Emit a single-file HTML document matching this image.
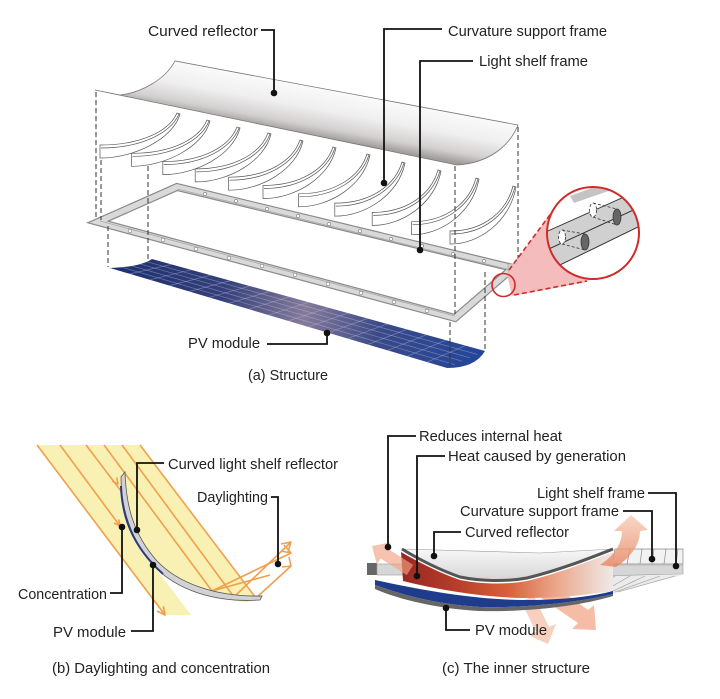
<!DOCTYPE html>
<html><head><meta charset="utf-8">
<style>
html,body{margin:0;padding:0;background:#fff;}
svg{display:block;}
text{font-family:"Liberation Sans",Arial,sans-serif;font-size:15px;fill:#222;}
</style></head><body>
<svg width="720" height="699" viewBox="0 0 720 699" xmlns="http://www.w3.org/2000/svg">
<defs>
<linearGradient id="gRefl" gradientUnits="userSpaceOnUse" x1="305" y1="84" x2="296" y2="133">
<stop offset="0" stop-color="#fbfbfb"/><stop offset=".45" stop-color="#efefef"/><stop offset=".8" stop-color="#d2cfcf"/><stop offset="1" stop-color="#a29d9d"/></linearGradient>
<linearGradient id="gPV" gradientUnits="userSpaceOnUse" x1="110" y1="268" x2="485" y2="352">
<stop offset="0" stop-color="#1b2f6e"/><stop offset=".3" stop-color="#33407a"/><stop offset=".52" stop-color="#857a9a"/><stop offset=".72" stop-color="#3a4988"/><stop offset="1" stop-color="#23469a"/></linearGradient>
<linearGradient id="gHeat" gradientUnits="userSpaceOnUse" x1="380" y1="0" x2="613" y2="0">
<stop offset="0" stop-color="#8e2020"/><stop offset=".3" stop-color="#b23a28"/><stop offset=".55" stop-color="#d8603a"/><stop offset=".75" stop-color="#eca588"/><stop offset="1" stop-color="#eeeae8"/></linearGradient>
<linearGradient id="gRefC" x1="0" y1="0" x2="0" y2="1">
<stop offset="0" stop-color="#f8f8f8"/><stop offset="1" stop-color="#d6d6d6"/></linearGradient>
<linearGradient id="gUp" gradientUnits="userSpaceOnUse" x1="0" y1="515" x2="0" y2="567">
<stop offset="0" stop-color="#f6cdb8"/><stop offset="1" stop-color="#e8825c"/></linearGradient>
<clipPath id="cpPV"><path d="M110,268 Q140,267 152,259 L485,351 Q475,368 447,368 Z"/></clipPath>
<clipPath id="cpCirc"><circle cx="593" cy="233" r="46"/></clipPath>
</defs>

<!-- ===== (a) Structure ===== -->
<path d="M110,268 Q140,267 152,259 L485,351 Q475,368 447,368 Z" fill="url(#gPV)"/>
<g clip-path="url(#cpPV)" stroke="#c8c8e6" stroke-opacity=".45" stroke-width=".7">
<line x1="143.6" y1="260.8" x2="477.4" y2="354.4"/><line x1="135.2" y1="262.6" x2="469.8" y2="357.8"/>
<line x1="126.8" y1="264.4" x2="462.2" y2="361.2"/><line x1="118.4" y1="266.2" x2="454.6" y2="364.6"/>
<line x1="171.6" y1="264.4" x2="129.8" y2="273.9"/><line x1="191.2" y1="269.8" x2="149.6" y2="279.8"/>
<line x1="210.8" y1="275.2" x2="169.5" y2="285.6"/><line x1="230.4" y1="280.6" x2="189.3" y2="291.5"/>
<line x1="249.9" y1="286.1" x2="209.1" y2="297.4"/><line x1="269.5" y1="291.5" x2="228.9" y2="303.3"/>
<line x1="289.1" y1="296.9" x2="248.8" y2="309.2"/><line x1="308.7" y1="302.3" x2="268.6" y2="315.1"/>
<line x1="328.3" y1="307.7" x2="288.4" y2="320.9"/><line x1="347.9" y1="313.1" x2="308.2" y2="326.8"/>
<line x1="367.5" y1="318.5" x2="328.1" y2="332.7"/><line x1="387.1" y1="323.9" x2="347.9" y2="338.6"/>
<line x1="406.6" y1="329.4" x2="367.7" y2="344.5"/><line x1="426.2" y1="334.8" x2="387.5" y2="350.4"/>
<line x1="445.8" y1="340.2" x2="407.4" y2="356.2"/><line x1="465.4" y1="345.6" x2="427.2" y2="362.1"/>
</g>

<!-- Light shelf frame -->
<path d="M177,187 L513,268 L455,318 L98,222 Z" fill="none" stroke="#8a8a8a" stroke-width="8" stroke-linejoin="miter"/>
<path d="M177,187 L513,268 L455,318 L98,222 Z" fill="none" stroke="#d9d9d9" stroke-width="5.6" stroke-linejoin="miter"/>
<path d="M177,189 L511,270 M455,316 L100,221" fill="none" stroke="#a8a8a8" stroke-width=".8"/>
<rect x="508" y="264" width="12" height="7" fill="#d2d2d2" stroke="#999" stroke-width=".6"/>
<g fill="#fff" stroke="#777" stroke-width=".6">
<circle cx="130" cy="231" r="1.8"/><circle cx="163" cy="240" r="1.8"/><circle cx="196" cy="249" r="1.8"/><circle cx="229" cy="258" r="1.8"/><circle cx="262" cy="266" r="1.8"/><circle cx="295" cy="275" r="1.8"/><circle cx="328" cy="284" r="1.8"/><circle cx="361" cy="293" r="1.8"/><circle cx="394" cy="302" r="1.8"/><circle cx="427" cy="311" r="1.8"/>
<circle cx="205" cy="194" r="1.6"/><circle cx="236" cy="201" r="1.6"/><circle cx="267" cy="209" r="1.6"/><circle cx="298" cy="216" r="1.6"/><circle cx="329" cy="224" r="1.6"/><circle cx="360" cy="231" r="1.6"/><circle cx="391" cy="239" r="1.6"/><circle cx="422" cy="246" r="1.6"/><circle cx="453" cy="254" r="1.6"/><circle cx="484" cy="261" r="1.6"/>
</g>

<!-- Curvature support ribs (crescents) -->
<g fill="#fff" stroke="#555" stroke-width=".7">
<path d="M450,231 C484.7,231 506.7,210.8 513,186 L516,187 C509.9,222 478.4,244 451,244 L450,244 Z"/><path d="M451,234 C484.7,234 508,212.8 515,187" fill="none"/>
<path d="M411.6,221.7 C447,221.7 469.6,202 476,178 L479,179 C472.8,213 440.6,234.7 412.6,234.7 L411.6,234.7 Z"/><path d="M412.6,224.7 C447,224.7 470.8,204 478,179" fill="none"/>
<path d="M372.2,212.4 C408.4,212.4 431.4,193.3 438,170 L441,171 C434.7,203.9 401.8,225.4 373.2,225.4 L372.2,225.4 Z"/><path d="M373.2,215.4 C408.4,215.4 432.7,195.3 440,171" fill="none"/>
<path d="M334.8,203.1 C371.8,203.1 395.3,184.6 402,162 L405,163 C398.6,194.9 365,216.1 335.8,216.1 L334.8,216.1 Z"/><path d="M335.8,206.1 C371.8,206.1 396.6,186.6 404,163" fill="none"/>
<path d="M298.4,193.8 C336.1,193.8 360.1,175.9 367,154 L370,155 C363.6,185.8 329.3,206.8 299.4,206.8 L298.4,206.8 Z"/><path d="M299.4,196.8 C336.1,196.8 361.5,177.9 369,155" fill="none"/>
<path d="M263,185.5 C301.5,185.5 326,168.2 333,147 L336,148 C329.5,177.8 294.5,198.5 264,198.5 L263,198.5 Z"/><path d="M264,188.5 C301.5,188.5 327.4,170.2 335,148" fill="none"/>
<path d="M228.6,177.2 C267.9,177.2 292.9,160.5 300,140 L303,141 C296.4,169.8 260.7,190.2 229.6,190.2 L228.6,190.2 Z"/><path d="M229.6,180.2 C267.9,180.2 294.3,162.5 302,141" fill="none"/>
<path d="M195.2,168.9 C235.2,168.9 260.7,152.7 268,133 L271,134 C264.4,161.7 228,181.9 196.2,181.9 L195.2,181.9 Z"/><path d="M196.2,171.9 C235.2,171.9 262.2,154.7 270,134" fill="none"/>
<path d="M162.8,161.6 C203.6,161.6 229.6,146 237,127 L240,128 C233.3,154.7 196.2,174.6 163.8,174.6 L162.8,174.6 Z"/><path d="M163.8,164.6 C203.6,164.6 231.1,148 239,128" fill="none"/>
<path d="M131.4,153.3 C173,153.3 199.4,138.3 207,120 L210,121 C203.2,146.6 165.4,166.3 132.4,166.3 L131.4,166.3 Z"/><path d="M132.4,156.3 C173,156.3 201,140.3 209,121" fill="none"/>
<path d="M100,145 C142.4,145 169.3,130.6 177,113 L180,114 C173.2,138.6 134.7,158 101,158 L100,158 Z"/><path d="M101,148 C142.4,148 170.8,132.6 179,114" fill="none"/>
</g>

<!-- Curved reflector -->
<path d="M95,90 L457,165 C490,163 510,145 518,125 L175,61 C165,80 140,93 120,95 Z" fill="url(#gRefl)" stroke="#777" stroke-width=".8"/>

<!-- dashed projection lines -->
<g stroke="#333" stroke-width="1" stroke-dasharray="5,3" fill="none">
<line x1="96" y1="92" x2="96" y2="220"/><line x1="101" y1="160" x2="101" y2="220"/>
<line x1="108" y1="226" x2="108" y2="267"/><line x1="148" y1="166" x2="148" y2="259"/>
<line x1="455" y1="166" x2="455" y2="314"/><line x1="450" y1="322" x2="450" y2="366"/>
<line x1="518" y1="127" x2="518" y2="264"/><line x1="485" y1="272" x2="485" y2="350"/>
</g>

<!-- inset magnifier -->
<path d="M507,274 L552,211 L593,233 L587,282 L512,296 Z" fill="#f4bcbc"/>
<g stroke="#d02a2a" stroke-width="1.6" stroke-dasharray="5,3" fill="none">
<line x1="509" y1="270" x2="552" y2="212"/><line x1="514" y1="295" x2="587" y2="281"/></g>
<circle cx="503.5" cy="285" r="11.5" fill="none" stroke="#d02a2a" stroke-width="1.6"/>
<circle cx="593" cy="233" r="46" fill="#fff"/>
<g clip-path="url(#cpCirc)">
<path d="M570,196 L640,170 L640,180 L574,203 Z" fill="#c4c4c4"/>
<path d="M540,234.5 L645,187.6 L645,223.6 L540,274.7 Z" fill="#d0d0d0"/>
<g stroke="#333" stroke-width="1"><line x1="540" y1="234.5" x2="645" y2="187.6"/><line x1="540" y1="253" x2="645" y2="204.7"/><line x1="540" y1="274.7" x2="645" y2="223.6"/></g>
<g stroke="#333" stroke-width=".8" stroke-dasharray="3,2" fill="none">
<line x1="562" y1="230" x2="585" y2="234"/><line x1="562" y1="244" x2="585" y2="250"/>
<line x1="593" y1="203" x2="617" y2="209"/><line x1="593" y1="217" x2="617" y2="225"/>
<ellipse cx="562" cy="237" rx="3.5" ry="7" fill="#fff"/><ellipse cx="593" cy="210" rx="3.5" ry="7" fill="#fff"/></g>
<ellipse cx="585" cy="242" rx="4" ry="8" fill="#666" stroke="#333" stroke-width=".8"/>
<ellipse cx="617" cy="217" rx="4" ry="8" fill="#666" stroke="#333" stroke-width=".8"/>
</g>
<circle cx="593" cy="233" r="46" fill="none" stroke="#d02a2a" stroke-width="2"/>

<!-- (a) leaders -->
<g stroke="#111" stroke-width="1.8" fill="none">
<polyline points="261,30 274,30 274,93"/>
<polyline points="442,29 384,29 384,183"/>
<polyline points="473,61 420,61 420,250"/>
<polyline points="267,344 327,344 327,333"/>
</g>
<g fill="#111"><circle cx="274" cy="93" r="3.3"/><circle cx="384" cy="183" r="3.3"/><circle cx="420" cy="250" r="3.3"/><circle cx="327" cy="333" r="3.3"/></g>
<text x="148" y="36" textLength="110" lengthAdjust="spacingAndGlyphs">Curved reflector</text>
<text x="448" y="36" textLength="159" lengthAdjust="spacingAndGlyphs">Curvature support frame</text>
<text x="479" y="66" textLength="109" lengthAdjust="spacingAndGlyphs">Light shelf frame</text>
<text x="188" y="348" textLength="72" lengthAdjust="spacingAndGlyphs">PV module</text>
<text x="248" y="380" textLength="80" lengthAdjust="spacingAndGlyphs">(a) Structure</text>

<!-- ===== (b) Daylighting and concentration ===== -->
<path d="M37,445 L140,445 L257,600 L247,602 C220,601 190,590 153,565 L191,615 L165,615 Z" fill="#f9f0b4"/>
<g stroke="#f0a04c" stroke-width="1.6" fill="none" stroke-linejoin="round">
<line x1="37" y1="445" x2="165" y2="615"/>
<line x1="60" y1="445" x2="120" y2="526"/>
<line x1="86" y1="445" x2="121" y2="491"/>
<line x1="104" y1="445" x2="212" y2="591"/>
<line x1="122" y1="445" x2="234" y2="597"/>
<line x1="140" y1="445" x2="256" y2="598"/>
<line x1="212" y1="591" x2="291" y2="553"/>
<line x1="234" y1="597" x2="291" y2="542"/>
<line x1="256" y1="598" x2="291" y2="566"/>
<line x1="212" y1="591" x2="270" y2="575"/>
<polyline points="157,611 165,615 163.4,606.2"/>
<polyline points="112,481 118,484 116.8,477.4"/>
<polyline points="114,523 120,526 118.8,519.4"/>
<polyline points="281,551 291,553 284,545"/>
<polyline points="281,544 291,542 288,552"/>
<polyline points="282,567 291,566 289,557"/>
</g>
<path d="M121,477 L125,472 C126,505 133,534 157,561 C178,583 215,597 262,596 L260,600 C215,603 176,590 153,565 C130,538 121,508 121,477 Z" fill="#d2d2d2" stroke="#555" stroke-width=".8"/>
<path d="M121,486 C122,515 131,545 163,574" fill="none" stroke="#2a3a80" stroke-width="2"/>

<g stroke="#111" stroke-width="1.8" fill="none">
<polyline points="164,463 137,463 137,530"/>
<polyline points="271,497 278,497 278,564"/>
<polyline points="110,593 122,593 122,527"/>
<polyline points="131,631 153,631 153,565"/>
</g>
<g fill="#111"><circle cx="137" cy="530" r="3.3"/><circle cx="278" cy="564" r="3.3"/><circle cx="122" cy="527" r="3.3"/><circle cx="153" cy="565" r="3.3"/></g>
<text x="168" y="469" textLength="170" lengthAdjust="spacingAndGlyphs">Curved light shelf reflector</text>
<text x="197" y="502" textLength="71" lengthAdjust="spacingAndGlyphs">Daylighting</text>
<text x="18" y="599" textLength="89" lengthAdjust="spacingAndGlyphs">Concentration</text>
<text x="53" y="637" textLength="73" lengthAdjust="spacingAndGlyphs">PV module</text>
<text x="52" y="673" textLength="218" lengthAdjust="spacingAndGlyphs">(b) Daylighting and concentration</text>

<!-- ===== (c) The inner structure ===== -->
<path d="M596,630 L594,605 L588,610 L551,583 L540,597 L578,623 L572,629 Z" fill="#f2a282" opacity=".72"/>
<path d="M548,644 L556,624 L549,627 L534,596 L521,601 L536,632 L530,636 Z" fill="#f2a282" opacity=".5"/>
<rect x="367" y="563" width="10" height="12" fill="#666"/>
<rect x="377" y="564" width="42" height="11" fill="#d6d6d6" stroke="#999" stroke-width=".6"/>
<path d="M615,549 L683,549 L683,564 L612,564 Z" fill="#f2f2f2" stroke="#888" stroke-width=".7"/>
<g stroke="#888" stroke-width=".7"><line x1="630" y1="549" x2="627" y2="564"/><line x1="642" y1="549" x2="640" y2="564"/><line x1="654" y1="549" x2="652" y2="564"/><line x1="666" y1="549" x2="664" y2="564"/><line x1="678" y1="549" x2="676" y2="564"/></g>
<path d="M560,576 L682,575 L615,593 L556,592 Z" fill="#ebebeb"/>
<g stroke="#999" stroke-width=".6" fill="none"><line x1="600" y1="576" x2="585" y2="590"/><line x1="615" y1="576" x2="595" y2="591"/><line x1="630" y1="576" x2="604" y2="591"/><line x1="645" y1="576" x2="611" y2="592"/><line x1="660" y1="576" x2="615" y2="592"/><line x1="675" y1="576" x2="618" y2="592"/></g>
<rect x="583" y="564" width="12" height="12" fill="#666"/>
<path d="M595,565 L683,565 L683,574 L595,576 Z" fill="#d6d6d6" stroke="#999" stroke-width=".6"/>
<path d="M375,580 C430,592 480,600 525,600 C565,600 595,596 613,591 L613,594 C580,602 530,608 480,607 C445,605 410,598 375,585 Z" fill="#1f3b8c"/>
<path d="M375,585 C410,598 445,605 480,607 C530,608 580,602 613,594 L613,596 C580,606 530,612 480,611 C440,609 400,600 375,589 Z" fill="#666"/>
<path d="M401,552 C420,563 440,573 460,580 C480,584 505,585 527,581 C560,573 590,561 613,552 L613,590 C590,595 560,598 522,598 C480,597 440,590 403,581 Z" fill="url(#gHeat)"/>
<path d="M402,549 L540,553 L613,549 C590,558 560,569 527,577 C505,581 480,580 460,576 C440,570 420,560 402,549 Z" fill="url(#gRefC)" stroke="#999" stroke-width=".6"/>
<path d="M402,549 C420,560 440,570 460,577 C480,581 505,582 527,578 C560,570 590,558 613,549" fill="none" stroke="#555" stroke-width="3"/>
<path d="M372,546 L390.7,542.4 L387,548.3 L413.2,564.9 L406.8,575.1 L380.6,558.5 L376.9,564.4 Z" fill="#f2a282" opacity=".65"/>
<path d="M631,515 L648,530 L640,531 C640,545 630,558 616,567 L600,565 C615,555 622,543 622,531 L614,531 Z" fill="url(#gUp)" opacity=".8"/>

<g stroke="#111" stroke-width="1.8" fill="none">
<polyline points="416,436 388,436 388,547"/>
<polyline points="445,456 417,456 417,576"/>
<polyline points="648,493 676,493 676,566"/>
<polyline points="623,511 652,511 652,559"/>
<polyline points="461,532 434,532 434,556"/>
<polyline points="470,630 446,630 446,608"/>
</g>
<g fill="#111"><circle cx="388" cy="547" r="3.3"/><circle cx="417" cy="576" r="3.3"/><circle cx="676" cy="566" r="3.3"/><circle cx="652" cy="559" r="3.3"/><circle cx="434" cy="556" r="3.3"/><circle cx="446" cy="608" r="3.3"/></g>
<text x="419" y="441" textLength="143" lengthAdjust="spacingAndGlyphs">Reduces internal heat</text>
<text x="448" y="461" textLength="178" lengthAdjust="spacingAndGlyphs">Heat caused by generation</text>
<text x="537" y="498" textLength="108" lengthAdjust="spacingAndGlyphs">Light shelf frame</text>
<text x="460" y="516" textLength="159" lengthAdjust="spacingAndGlyphs">Curvature support frame</text>
<text x="465" y="537" textLength="104" lengthAdjust="spacingAndGlyphs">Curved reflector</text>
<text x="475" y="635" textLength="72" lengthAdjust="spacingAndGlyphs">PV module</text>
<text x="442" y="673" textLength="148" lengthAdjust="spacingAndGlyphs">(c) The inner structure</text>
</svg>
</body></html>
